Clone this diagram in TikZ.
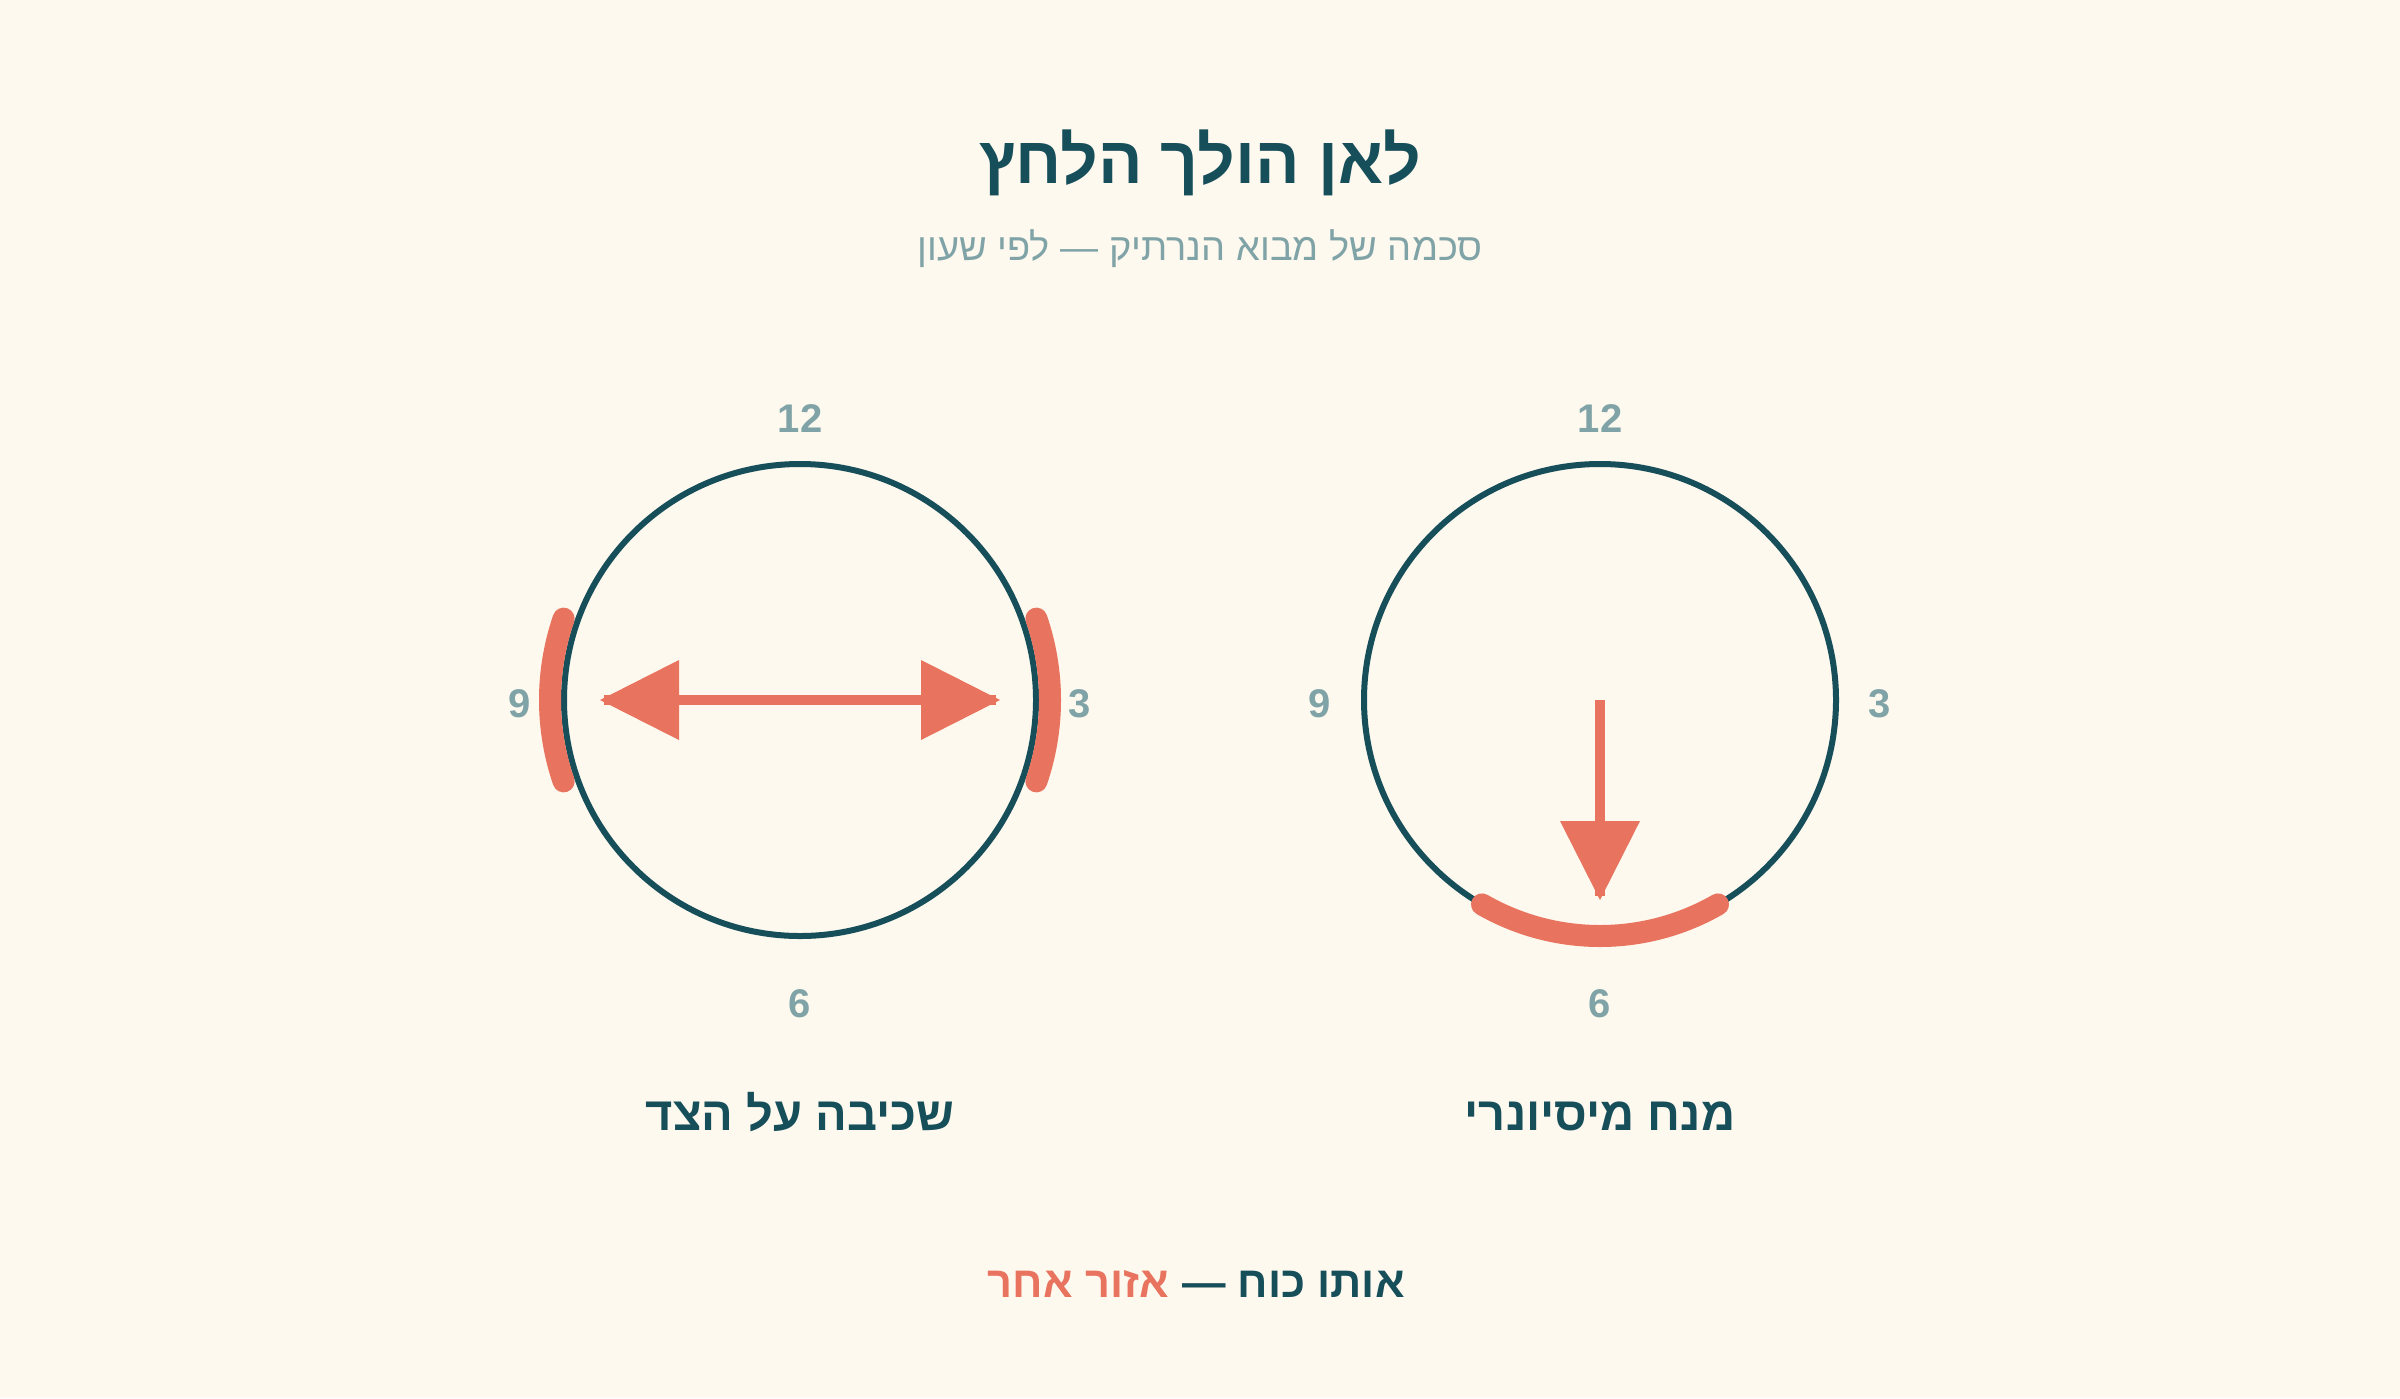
\documentclass[tikz,border=0pt]{standalone}
\usepackage{fontspec}
\setmainfont{Liberation Sans}
\newfontfamily\heb[Script=Hebrew]{Liberation Sans}
\TeXXeTstate=1
\definecolor{bg}{HTML}{FEF9EF}
\definecolor{ink}{HTML}{164E5A}
\definecolor{coral}{HTML}{E8735E}
\definecolor{muted}{HTML}{7FA3A6}
\begin{document}
\begin{tikzpicture}[x=1pt,y=-1pt,
  face/.style={circle,draw=ink,line width=6pt,minimum size=472pt,inner sep=0pt,fill=none},
  num/.style={anchor=base,inner sep=0pt,text=muted,font=\bfseries\fontsize{40}{44}\selectfont},
  titletext/.style={anchor=base,inner sep=0pt,text=ink,font=\heb\bfseries\fontsize{66}{72}\selectfont},
  subtext/.style={anchor=base,inner sep=0pt,text=muted,font=\heb\fontsize{38}{44}\selectfont},
  caption/.style={anchor=base,inner sep=0pt,text=ink,font=\heb\bfseries\fontsize{47}{52}\selectfont},
  foot/.style={inner sep=0pt,text=ink,font=\heb\bfseries\fontsize{43.5}{48}\selectfont},
  zone/.style={draw=coral,line width=22pt,line cap=round},
  shaft/.style={draw=coral,line width=10pt},
  head/.style={fill=coral}]
\useasboundingbox (0,0) rectangle (2400,1398);
\fill[bg] (0,0) rectangle (2400,1398);
% titles
\node[titletext] (title) at (1200,183) {\beginR לאן הולך הלחץ\endR};
\node[subtext] (sub) at (1200,260) {\beginR סכמה של מבוא הנרתיק — לפי שעון\endR};
% left clock
\node[face] (L) at (800,700) {};
\node[num] (L12) at (800,432) {12};
\node[num] (L9) at (520,717) {9};
\node[num] (L3) at (1080,717) {3};
\node[num] (L6) at (800,1017) {6};
\draw[zone] (L.center) ++(161:250) arc[start angle=161,end angle=199,radius=250];
\draw[zone] (L.center) ++(-19:250) arc[start angle=-19,end angle=19,radius=250];
\coordinate (la) at (604,700);
\coordinate (lb) at (996,700);
\coordinate (lta) at (600,700);
\coordinate (ltb) at (1000,700);
\draw[shaft] (la) -- (lb);
\fill[head] (lta) -- ++(79,-40) -- ++(0,80) -- cycle;
\fill[head] (ltb) -- ++(-79,-40) -- ++(0,80) -- cycle;
\node[caption] (Lcap) at (800,1130) {\beginR שכיבה על הצד\endR};
% right clock
\node[face] (R) at (1600,700) {};
\node[num] (R12) at (1600,432) {12};
\node[num] (R9) at (1320,717) {9};
\node[num] (R3) at (1880,717) {3};
\node[num] (R6) at (1600,1017) {6};
\draw[zone] (R.center) ++(60:236) arc[start angle=60,end angle=120,radius=236];
\coordinate (rs) at (1600,896);
\coordinate (rt) at (1600,900);
\draw[shaft] (R.center) -- (rs);
\fill[head] (rt) -- ++(-40,-79) -- ++(80,0) -- cycle;
\node[caption] (Rcap) at (1600,1130) {\beginR מנח מיסיונרי\endR};
% footer
\node[foot,anchor=base west] (f1) at (1182,1297) {\beginR אותו כוח —\endR};
\node[foot,anchor=base east,text=coral] (f2) at ([xshift=-13pt]f1.base west) {\beginR אזור אחר\endR};
\end{tikzpicture}
\end{document}
